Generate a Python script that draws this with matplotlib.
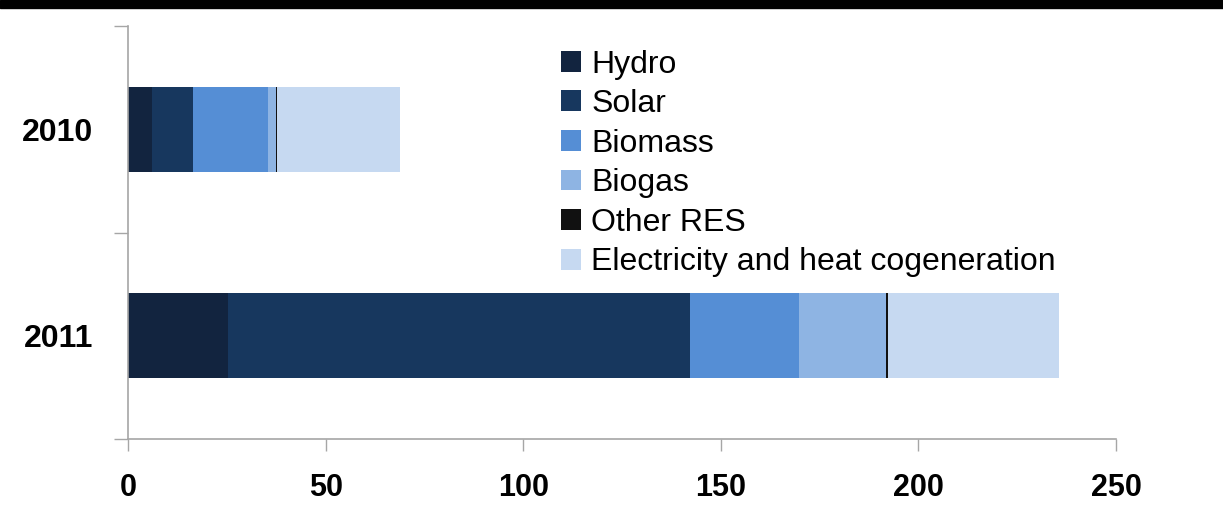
import numpy as np
import matplotlib
matplotlib.use('Agg')
import matplotlib.pyplot as plt
from matplotlib.patches import Rectangle

years = ['2010', '2011']
sources = ['Hydro', 'Solar', 'Biomass', 'Biogas', 'Other RES',
           'Electricity and heat cogeneration']
values = {
    'Hydro': [6.1, 25.2],
    'Solar': [10.4, 117.1],
    'Biomass': [18.8, 27.6],
    'Biogas': [2.1, 22.0],
    'Other RES': [0.4, 0.4],
    'Electricity and heat cogeneration': [31.0, 43.4],
}
colors = ['#12243f', '#17375e', '#558ed5', '#8eb4e3', '#111111', '#c6d9f1']
xticks = [0, 50, 100, 150, 200, 250]

plt.rcParams['font.family'] = ['Liberation Sans Narrow', 'Liberation Sans', 'DejaVu Sans']

fig = plt.figure(figsize=(12.23, 5.09), dpi=100)
ax = fig.add_axes([0.1047, 0.1375, 0.9125 - 0.1047, 0.9489 - 0.1375])

# black band at the top
fig.patches.append(Rectangle((0, 0.984), 1, 0.016, transform=fig.transFigure,
                             color='black', zorder=10))

ypos = [1.5, 0.5]
left = np.zeros(len(years))
for src, c in zip(sources, colors):
    v = np.array(values[src])
    ax.barh(ypos, v, left=left, height=0.41, color=c, label=src)
    left += v

ax.set_xlim(0, 250)
ax.set_ylim(0, 2)
ax.set_xticks(xticks)
ax.set_xticklabels([str(t) for t in xticks], fontsize=22, fontweight='bold')
ax.set_yticks(ypos)
ax.set_yticklabels(years, fontsize=23, fontweight='bold')
ax.set_yticks([0, 1, 2], minor=True)

for s in ['top', 'right']:
    ax.spines[s].set_visible(False)
for s in ['left', 'bottom']:
    ax.spines[s].set_color('#a6a6a6')
    ax.spines[s].set_linewidth(1.2)

ax.tick_params(axis='x', length=8.6, width=1, color='#a6a6a6', pad=16)
ax.tick_params(axis='y', which='major', length=0, pad=25)
ax.tick_params(axis='y', which='minor', length=10, width=1, color='#a6a6a6')

ax.legend(loc='upper left', bbox_to_anchor=(0.4256, 0.974), frameon=False,
          fontsize=23, handlelength=0.63, handleheight=0.63, handletextpad=0.31,
          labelspacing=0.30, borderaxespad=0)

fig.savefig('out.png', dpi=100)
